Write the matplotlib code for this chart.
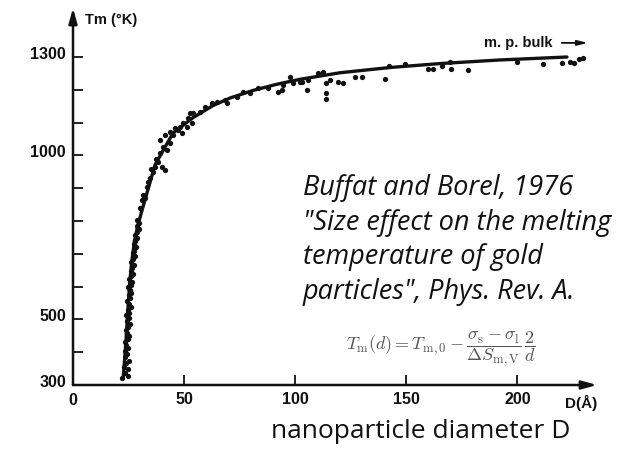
import matplotlib
matplotlib.use("Agg")
import matplotlib.pyplot as plt
from matplotlib.transforms import ScaledTranslation

# Melting temperature of gold particles vs. diameter (Buffat & Borel, 1976)
curve_d = [22.6, 23.7, 24.6, 25.5, 26.5, 27.7, 29.3, 32.0, 36.9, 45.0, 54.0,
           63.0, 70.7, 81.0, 91.8, 102.2, 120.2, 142.7, 165.2, 192.2, 222.3]
curve_t = [321, 420, 520, 610, 680, 740, 790, 855, 971, 1068, 1115,
           1152, 1175, 1198, 1217, 1232, 1252, 1268, 1280, 1291, 1300]

steep_d = [22.0, 24.8, 23.3, 24.6, 23.0, 24.0, 25.0, 23.6, 24.4, 23.2, 24.9, 24.0,
           23.5, 24.6, 25.3, 24.1, 23.7, 24.8, 25.6, 24.3, 25.0, 24.0, 25.4, 24.7,
           26.0, 25.1, 24.5, 25.8, 25.2, 26.3, 25.5, 24.9, 26.0, 26.6, 25.4, 26.2,
           27.0, 25.9, 26.7, 27.3, 26.3, 27.0, 27.8, 26.8, 27.6, 28.2, 27.3, 28.1,
           28.9, 28.0, 29.0, 29.8, 28.7, 29.9]
steep_t = [322, 326, 338, 348, 356, 366, 374, 384, 394, 404, 412, 422,
           432, 441, 450, 459, 469, 478, 486, 495, 504, 512, 520, 530,
           538, 547, 556, 564, 573, 581, 590, 598, 606, 614, 622, 631,
           639, 648, 657, 666, 675, 684, 692, 701, 710, 720, 729, 738,
           748, 757, 766, 776, 785, 795]

knee_d = [27.9, 28.8, 30.2, 31.1, 31.5, 33.3, 33.8, 34.7, 36.0, 36.9, 38.3, 40.1,
          41.4, 39.2, 40.5, 42.3, 43.7, 45.0, 47.3, 49.1, 51.3, 53.6, 39.2, 41.4,
          43.7, 45.9, 48.2, 49.5, 51.8, 52.7, 54.0, 57.2, 59.4, 62.6, 64.8, 68.4,
          69.3, 73.8, 76.5, 79.7, 83.3, 87.8, 92.3, 94.5, 97.7, 99.0, 102.2, 35.0,
          37.5, 32.5]
knee_t = [742, 803, 840, 864, 879, 904, 919, 931, 949, 965, 980, 965,
          956, 1007, 1026, 1017, 1038, 1062, 1077, 1068, 1087, 1099, 1047, 1062,
          1071, 1084, 1087, 1099, 1114, 1129, 1129, 1132, 1148, 1160, 1163, 1169,
          1160, 1178, 1193, 1190, 1205, 1205, 1193, 1215, 1239, 1221, 1224, 960,
          990, 870]

flat_d = [94.1, 105.3, 105.8, 103.1, 110.3, 112.5, 113.9, 115.7, 113.9, 113.9,
          119.3, 121.5, 126.9, 130.1, 140.4, 142.2, 149.4, 159.8, 162.0, 166.1,
          169.7, 170.1, 177.8, 199.8, 211.5, 220.1, 223.7, 225.5, 227.7, 229.5]
flat_t = [1199, 1199, 1230, 1224, 1251, 1254, 1221, 1230, 1190, 1172,
          1224, 1221, 1239, 1239, 1233, 1273, 1279, 1263, 1263, 1273,
          1285, 1263, 1260, 1285, 1279, 1282, 1285, 1282, 1294, 1297]

y_major = [300, 500, 1000, 1300]
y_minor = [400, 600, 700, 800, 900, 1100, 1200]
x_major = [0, 50, 100, 150, 200]

plt.rcParams["mathtext.fontset"] = "cm"

W, H = 624, 457
fig = plt.figure(figsize=(W / 100, H / 100), dpi=100)
x0, y0, x1, y1 = 73, 385, 597, 8          # axes corners in pixels
ax = fig.add_axes([x0 / W, 1 - y0 / H, (x1 - x0) / W, (y0 - y1) / H])
ax.set_xlim(0, (x1 - x0) / 2.222)
ax.set_ylim(300, 300 + (y0 - y1) / 0.328)
for s in ax.spines.values():
    s.set_visible(False)
ax.patch.set_alpha(0)

ink = "#111111"
ax.plot(curve_d, curve_t, color=ink, lw=2.4, solid_capstyle="round",
        solid_joinstyle="round", zorder=3)
for dd, tt in [(steep_d, steep_t), (knee_d, knee_t), (flat_d, flat_t)]:
    ax.plot(dd, tt, "o", color=ink, ms=3.8, mec="none", zorder=4)

# axes drawn as arrows
arrow_kw = dict(arrowstyle="-|>,head_length=0.9,head_width=0.25", lw=1.8, color=ink,
                shrinkA=0, shrinkB=0)
ax.annotate("", xy=(1, 0), xytext=(0, 0), xycoords="axes fraction", arrowprops=arrow_kw)
ax.annotate("", xy=(0, 1), xytext=(0, 0), xycoords="axes fraction", arrowprops=arrow_kw)

tick_font = dict(family="Liberation Sans", weight="bold", size=11.5)
ax.set_yticks(y_major, [str(v) for v in y_major], **tick_font)
ax.set_yticks(y_minor, minor=True)
ax.set_xticks(x_major[1:], [str(v) for v in x_major[1:]], **tick_font)
ax.tick_params(axis="both", which="both", direction="in", length=7.5, width=1.3,
               color=ink, labelcolor=ink)
ax.tick_params(axis="y", pad=5)
ax.tick_params(axis="x", pad=5)
shift = ScaledTranslation(0, 3 / 72, fig.dpi_scale_trans)
for lab in ax.get_yticklabels():
    lab.set_transform(lab.get_transform() + shift)
ax.text(0, 300, str(x_major[0]), ha="center", va="top", transform=ax.transData
        + ScaledTranslation(0, -6 / 72, fig.dpi_scale_trans), color=ink, **tick_font)

small_bold = dict(family="Liberation Sans", weight="bold", color=ink)
ax.text(5.4, 1413, "Tm (°K)", ha="left", va="center", size=10.5, **small_bold)
ax.text(221.4, 300, "D(Å)", ha="left", va="top", clip_on=False, size=11,
        transform=ax.transData + ScaledTranslation(0, -7 / 72, fig.dpi_scale_trans),
        **small_bold)
ax.text(216, 1343, "m. p. bulk", ha="right", va="center", size=10.5, **small_bold)
ax.annotate("", xy=(231.7, 1343), xytext=(220, 1343), xycoords="data",
            arrowprops=dict(arrowstyle="-|>,head_length=0.6,head_width=0.15",
                            lw=1.3, color=ink, shrinkA=0, shrinkB=0))

fig.text(303 / W, 1 - 174 / H,
         "Buffat and Borel, 1976\n\"Size effect on the melting\ntemperature of gold\n"
         "particles\", Phys. Rev. A.",
         family="Open Sans", style="italic", size=19.5, ha="left", va="top",
         linespacing=1.32, color="#111111")

fig.text(441 / W, 1 - 349 / H,
         r"$T_{\rm m}(d) = T_{\rm m,0} - \dfrac{\sigma_{\rm s}-\sigma_{\rm l}}"
         r"{\Delta S_{\rm m,V}}\,\dfrac{2}{d}$",
         size=13, ha="center", va="center", color="#555555")

fig.text(421 / W, 1 - 432 / H, "nanoparticle diameter D", family="Open Sans",
         size=19, ha="center", va="center", color="#111111")

fig.savefig("out.png", dpi=100, facecolor="white")
